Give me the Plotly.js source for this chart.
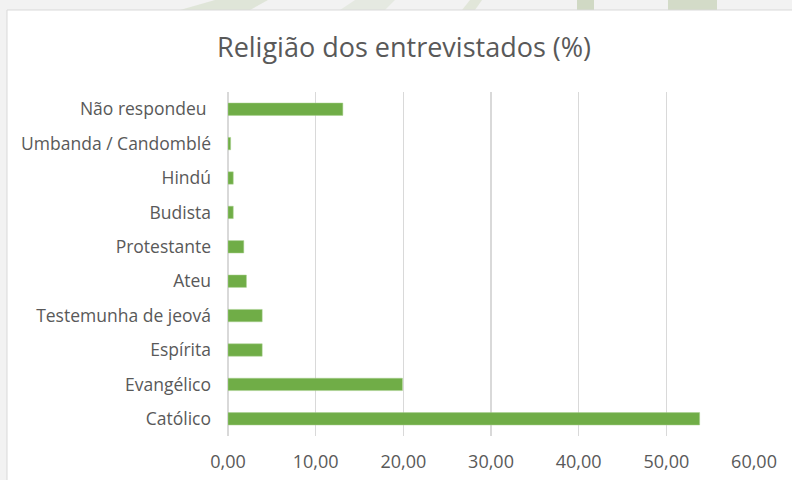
<!DOCTYPE html>
<html>
<head>
<meta charset="utf-8">
<script src="https://cdn.plot.ly/plotly-3.0.1.min.js"></script>
<style>
html,body{margin:0;padding:0;background:#f2f2f2;}
#chart{width:792px;height:480px;}
</style>
</head>
<body>
<div id="chart"></div>
<script>
// Categories listed bottom to top
var categories = ["Católico", "Evangélico", "Espírita", "Testemunha de jeová", "Ateu", "Protestante", "Budista", "Hindú", "Umbanda / Candomblé", "Não respondeu "];
var values = [53.8, 19.9, 3.9, 3.9, 2.1, 1.8, 0.6, 0.6, 0.3, 13.1];
var tickValues = [0, 10, 20, 30, 40, 50, 60];

var trace = {
  type: 'bar',
  orientation: 'h',
  y: categories,
  x: values,
  marker: {color: '#70ad47', line: {color: '#a9d18e', width: 0.5}},
  hoverinfo: 'x+y'
};

var L = 228, R = 38, T = 92, B = 44;
var W = 792 - L - R, H = 480 - T - B;
function px(x){ return (x - L) / W; }
function py(y){ return (480 - B - y) / H; }

var shapes = [
  // faint background decorations at the top
  {type:'path', xref:'paper', yref:'paper', layer:'below',
   path:'M '+px(180)+','+py(10)+' L '+px(215)+','+py(0)+' L '+px(268)+','+py(0)+' L '+px(250)+','+py(10)+' Z',
   fillcolor:'rgba(190,205,170,0.35)', line:{width:0}},
  {type:'path', xref:'paper', yref:'paper', layer:'below',
   path:'M '+px(340)+','+py(10)+' L '+px(355)+','+py(0)+' L '+px(395)+','+py(0)+' L '+px(385)+','+py(10)+' Z',
   fillcolor:'rgba(200,212,185,0.3)', line:{width:0}},
  {type:'path', xref:'paper', yref:'paper', layer:'below',
   path:'M '+px(462)+','+py(10)+' L '+px(470)+','+py(0)+' L '+px(482)+','+py(0)+' L '+px(475)+','+py(10)+' Z',
   fillcolor:'rgba(200,212,180,0.4)', line:{width:0}},
  {type:'rect', xref:'paper', yref:'paper', layer:'below',
   x0:px(577), x1:px(594), y0:py(10), y1:py(0),
   fillcolor:'rgba(185,200,165,0.6)', line:{width:0}},
  {type:'rect', xref:'paper', yref:'paper', layer:'below',
   x0:px(668), x1:px(717), y0:py(10), y1:py(0),
   fillcolor:'rgba(190,203,172,0.6)', line:{width:0}},
  // white chart frame
  {type:'rect', xref:'paper', yref:'paper', layer:'below',
   x0:px(7), x1:px(800), y0:py(490), y1:py(10),
   fillcolor:'#ffffff', line:{color:'#d9d9d9', width:1}}
];

var layout = {
  width: 792, height: 480,
  paper_bgcolor: '#f2f2f2',
  plot_bgcolor: 'rgba(0,0,0,0)',
  margin: {l: L, r: R, t: T, b: B, pad: 0},
  separators: ',.',
  title: {
    text: 'Religião dos entrevistados (%)',
    font: {family: 'Open Sans, sans-serif', size: 27, color: '#595959'},
    x: 404/792, xref: 'container', xanchor: 'center',
    y: 1 - 48/480, yanchor: 'middle', yref: 'container'
  },
  xaxis: {
    range: [0, 60],
    tickvals: tickValues,
    tickformat: '.2f',
    showgrid: true, gridcolor: '#d9d9d9', gridwidth: 1.3,
    zeroline: true, zerolinecolor: '#d9d9d9', zerolinewidth: 1.3,
    showline: false, ticks: '',
    ticklabelstandoff: 13,
    tickfont: {family: 'Open Sans, sans-serif', size: 18, color: '#595959'},
    fixedrange: true
  },
  yaxis: {
    type: 'category',
    categoryorder: 'array',
    categoryarray: categories,
    showgrid: false, zeroline: false, showline: false, ticks: '',
    ticklabelstandoff: 16,
    tickfont: {family: 'Open Sans, sans-serif', size: 17.5, color: '#595959'},
    fixedrange: true
  },
  bargap: 0.64,
  showlegend: false,
  shapes: shapes
};

Plotly.newPlot('chart', [trace], layout, {displayModeBar: false, staticPlot: true});
</script>
</body>
</html>
